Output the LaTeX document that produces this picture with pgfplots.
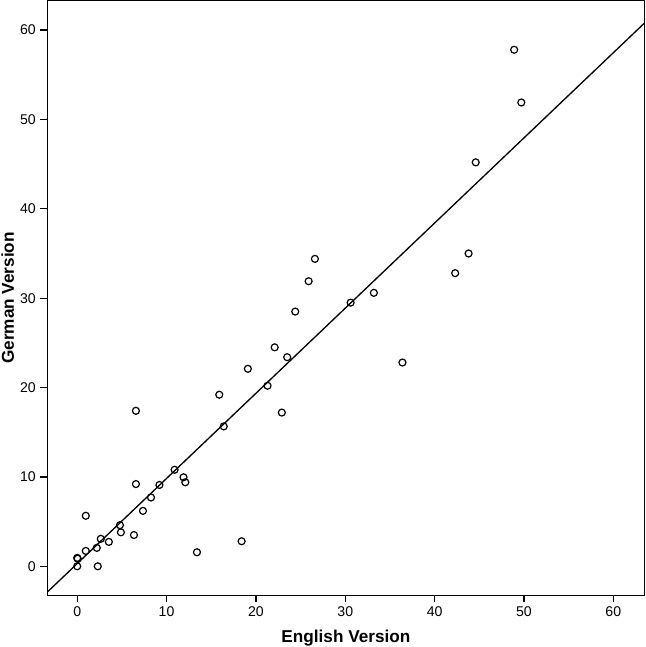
\documentclass[border=0pt]{standalone}
\usepackage{pgfplots}
\pgfplotsset{compat=1.18}
\usepackage{fontspec}
\setmainfont{Liberation Sans}
\begin{document}
\begin{tikzpicture}
\begin{axis}[
  scale only axis,
  width=445pt, height=443pt,
  xmin=-3.36, xmax=63.5, ymin=-3.25, ymax=63.3,
  xtick={0,10,...,60}, ytick={0,10,...,60},
  tick pos=left, tick align=outside,
  major tick length=5pt,
  axis line style={line width=0.9pt},
  every tick/.style={line width=0.9pt, black},
  /pgf/number format/assume math mode=true,
  tick label style={font=\fontsize{10.5}{12}\selectfont},
  xlabel={\textbf{English Version}},
  ylabel={\textbf{German Version}},
  label style={font=\fontsize{12.8}{14}\selectfont, inner sep=1pt},
  xlabel style={yshift=-5pt},
  ylabel style={yshift=0pt},
  clip=true,
]
\addplot[only marks, mark=o, mark size=2.6pt, line width=0.9pt, black] coordinates {
(6.57,17.4) (22.9,17.2) (16.4,15.65) (10.9,10.8) (11.9,9.96) (12.1,9.4)
(6.57,9.2) (9.2,9.1) (8.26,7.7) (7.36,6.2) (0.96,5.65) (4.78,4.6)
(4.89,3.8) (6.35,3.5) (2.64,3.07) (3.54,2.73) (0.96,1.72) (2.19,2.06)
(0,0.94) (0.05,0.85) (0,0) (2.3,0) (13.4,1.57) (18.4,2.8)
(26.6,34.4) (25.9,31.9) (33.2,30.6) (30.6,29.5) (24.4,28.5) (22.1,24.5)
(23.5,23.4) (19.1,22.1) (36.4,22.8) (21.3,20.2) (15.9,19.2)
(48.9,57.8) (49.7,51.9) (44.6,45.2) (43.8,35.0) (42.3,32.8)
};
\addplot[black, line width=1pt] coordinates {(-3.36,-2.9) (63.5,60.8)};
\end{axis}
\end{tikzpicture}
\end{document}
